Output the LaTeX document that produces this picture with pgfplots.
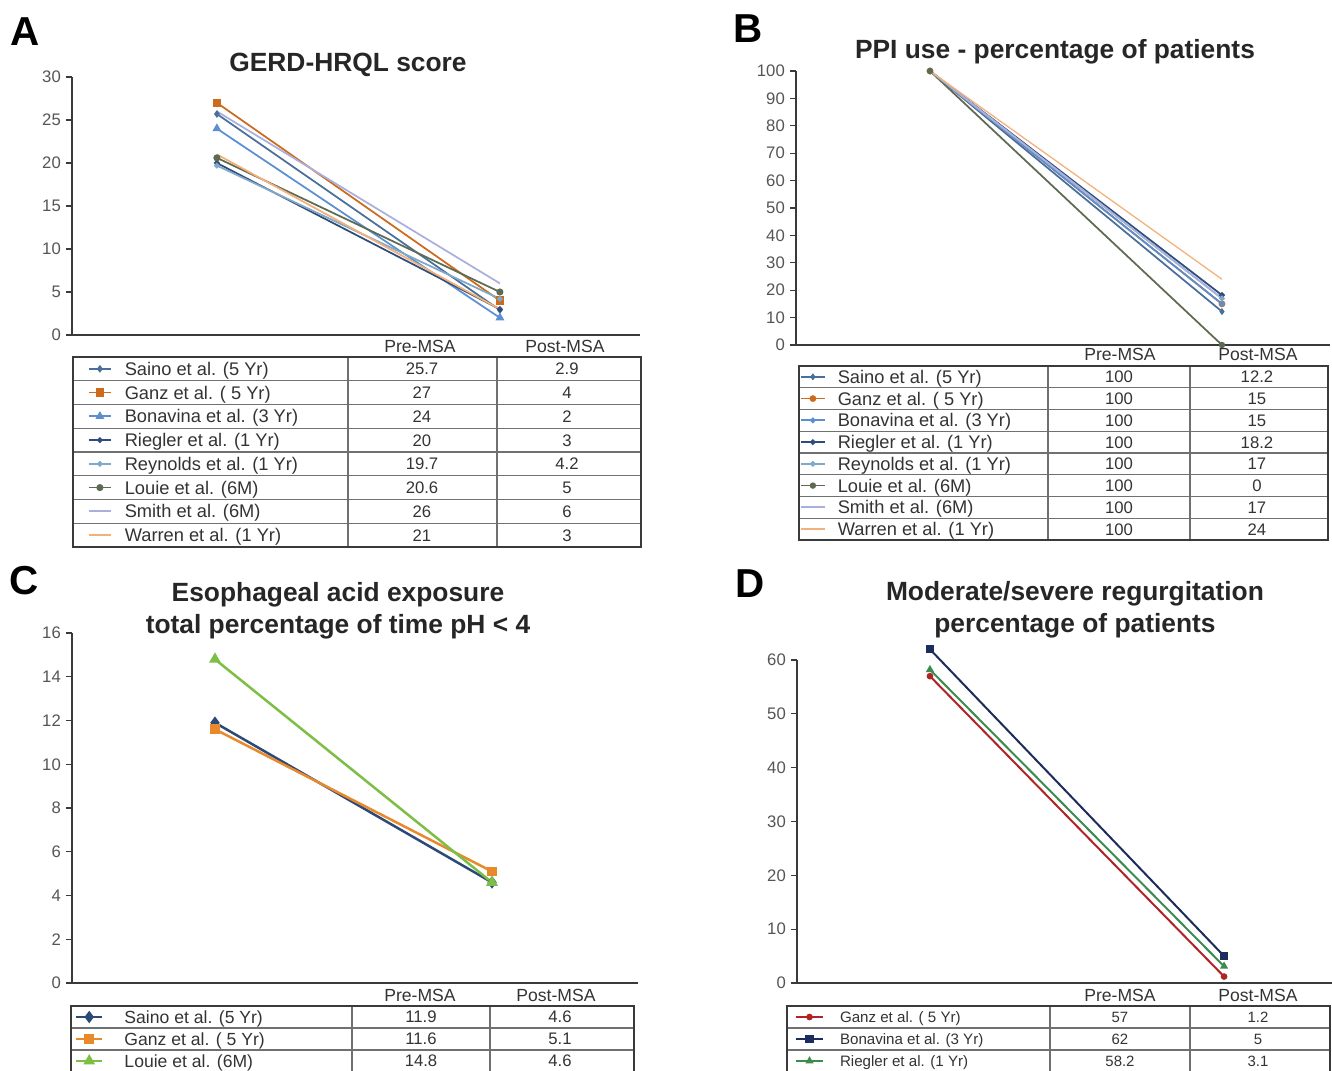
\documentclass[border=0pt]{standalone}
\usepackage{pgfplots}
\pgfplotsset{compat=1.18}
\usepackage{fontspec}
\setmainfont{Liberation Sans}
\definecolor{axisgray}{HTML}{3A3A3A}
\definecolor{tickgray}{HTML}{555555}
\definecolor{txtgray}{HTML}{333333}
\definecolor{gridgray}{HTML}{707070}
% series colours
\definecolor{cSaino}{HTML}{4A6F9A}
\definecolor{cGanz}{HTML}{CC6A1E}
\definecolor{cBona}{HTML}{5B8FD0}
\definecolor{cRieg}{HTML}{2F4D7A}
\definecolor{cReyn}{HTML}{7FA8C9}
\definecolor{cLouie}{HTML}{5E6B52}
\definecolor{cSmith}{HTML}{A9B0DD}
\definecolor{cWarren}{HTML}{F2B07A}
\definecolor{cCSaino}{HTML}{2C4A78}
\definecolor{cCGanz}{HTML}{E8892C}
\definecolor{cCLouie}{HTML}{7DBE45}
\definecolor{cDGanz}{HTML}{B02428}
\definecolor{cDBona}{HTML}{1C2C5C}
\definecolor{cDRieg}{HTML}{3C8C50}
\pgfplotsset{
  panel/.style={
    scale only axis, clip=false,
    axis x line*=bottom, axis y line*=left,
    axis line style={line width=0.3mm, draw=axisgray, -},
    xtick=\empty,
    tick align=outside,
    major tick length=1.2mm,
    ytick style={line width=0.25mm, draw=axisgray},
    yticklabel style={font=\fontsize{9.5}{10}\selectfont, text=tickgray, /pgf/number format/assume math mode=true, xshift=0.2mm},
    legend cell align=left,
    every axis plot/.append style={line width=0.35mm},
  },
}
\tikzset{
  num/.style={font=\fontsize{9.5}{11}\selectfont, text=txtgray, inner sep=0pt, text height=2.4mm, text depth=0pt, anchor=center},
  numD/.style={font=\fontsize{8.5}{10}\selectfont, text=txtgray, inner sep=0pt, text height=2.15mm, text depth=0pt, anchor=center},
  hdr/.style={font=\fontsize{10}{11}\selectfont, text=txtgray, inner sep=0pt, text height=2.5mm, text depth=0pt, anchor=center},
  ttl/.style={font=\fontsize{15}{18}\selectfont\bfseries, text=black!85, inner sep=0pt, text height=3.85mm, text depth=0pt, anchor=center},
  plab/.style={font=\fontsize{23}{26}\selectfont\bfseries, text=black, inner sep=0pt, text height=5.9mm, text depth=0pt, anchor=center},
  gl/.style={gridgray, line width=0.25mm},
  ol/.style={axisgray, line width=0.35mm},
}
\begin{document}
\begin{tikzpicture}
\path[use as bounding box] (0,0) rectangle (266.4mm,-214.2mm);

% ---------------- Panel A ----------------
\begin{axis}[panel,
  at={(14.4mm,-67.0mm)}, anchor=south west,
  width=113.6mm, height=51.6mm,
  xmin=-0.512, xmax=1.495, ymin=0, ymax=30,
  ytick={0,5,...,30},
  legend image code/.code={\draw[mark repeat=2,mark phase=2,#1] plot coordinates {(0mm,0mm) (2.2mm,0mm) (4.4mm,0mm)};},
  legend style={at={(axis description cs:0.0282,-0.1058)}, anchor=north west, draw=none, fill=none,
    inner sep=0pt, outer sep=0pt, row sep=2.13mm, font=\fontsize{10.4}{12}\selectfont, text=txtgray,
    nodes={inner sep=0pt, text height=2.62mm, text depth=0pt},
    /tikz/every odd column/.append style={column sep=2.6mm}},
]
\addplot[color=cSaino, mark=diamond*, mark size=1.4pt] coordinates {(0,25.7) (1,2.9)};
\addlegendentry{Saino et al. (5 Yr)}
\addplot[color=cGanz, mark=square*, mark size=1.9pt] coordinates {(0,27) (1,4)};
\addlegendentry{Ganz et al. ( 5 Yr)}
\addplot[color=cBona, mark=triangle*, mark size=2pt] coordinates {(0,24) (1,2)};
\addlegendentry{Bonavina et al. (3 Yr)}
\addplot[color=cRieg, mark=*, mark size=1.1pt] coordinates {(0,20) (1,3)};
\addlegendentry{Riegler et al. (1 Yr)}
\addplot[color=cReyn, mark=*, mark size=1.1pt] coordinates {(0,19.7) (1,4.2)};
\addlegendentry{Reynolds et al. (1 Yr)}
\addplot[color=cLouie, mark=*, mark size=1.5pt] coordinates {(0,20.6) (1,5)};
\addlegendentry{Louie et al. (6M)}
\addplot[color=cSmith, no marks] coordinates {(0,26) (1,6)};
\addlegendentry{Smith et al. (6M)}
\addplot[color=cWarren, no marks] coordinates {(0,21) (1,3)};
\addlegendentry{Warren et al. (1 Yr)}
\end{axis}

% ---------------- Panel B ----------------
\begin{axis}[panel,
  at={(159.2mm,-69.0mm)}, anchor=south west,
  width=106.8mm, height=54.8mm,
  xmin=-0.459, xmax=1.370, ymin=0, ymax=100,
  ytick={0,10,...,100},
  legend image code/.code={\draw[mark repeat=2,mark phase=2,#1] plot coordinates {(0mm,0mm) (2.4mm,0mm) (4.8mm,0mm)};},
  legend style={at={(axis description cs:0.0075,-0.0923)}, anchor=north west, draw=none, fill=none,
    inner sep=0pt, outer sep=0pt, row sep=1.73mm, font=\fontsize{10.4}{12}\selectfont, text=txtgray,
    nodes={inner sep=0pt, text height=2.62mm, text depth=0pt},
    /tikz/every odd column/.append style={column sep=2.4mm}},
]
\addplot[color=cSaino, mark=diamond*, mark size=1.2pt] coordinates {(0,100) (1,12.2)};
\addlegendentry{Saino et al. (5 Yr)}
\addplot[color=cGanz, mark=*, mark size=1.4pt] coordinates {(0,100) (1,15)};
\addlegendentry{Ganz et al. ( 5 Yr)}
\addplot[color=cBona, mark=*, mark size=1.1pt] coordinates {(0,100) (1,15)};
\addlegendentry{Bonavina et al. (3 Yr)}
\addplot[color=cRieg, mark=*, mark size=1.1pt] coordinates {(0,100) (1,18.2)};
\addlegendentry{Riegler et al. (1 Yr)}
\addplot[color=cReyn, mark=*, mark size=1.1pt] coordinates {(0,100) (1,17)};
\addlegendentry{Reynolds et al. (1 Yr)}
\addplot[color=cLouie, mark=*, mark size=1.3pt] coordinates {(0,100) (1,0)};
\addlegendentry{Louie et al. (6M)}
\addplot[color=cSmith, no marks] coordinates {(0,100) (1,17)};
\addlegendentry{Smith et al. (6M)}
\addplot[color=cWarren, no marks, line width=0.25mm] coordinates {(0,100) (1,24)};
\addlegendentry{Warren et al. (1 Yr)}
\end{axis}

% ---------------- Panel C ----------------
\begin{axis}[panel,
  at={(14.4mm,-196.6mm)}, anchor=south west,
  width=113.2mm, height=70mm,
  xmin=-0.516, xmax=1.527, ymin=0, ymax=16,
  ytick={0,2,...,16},
  every axis plot/.append style={line width=0.5mm},
  legend image code/.code={\draw[mark repeat=2,mark phase=2,#1] plot coordinates {(0mm,0mm) (2.6mm,0mm) (5.2mm,0mm)};},
  legend style={at={(axis description cs:0.0053,-0.0791)}, anchor=north west, draw=none, fill=none,
    inner sep=0pt, outer sep=0pt, row sep=1.88mm, font=\fontsize{10}{12}\selectfont, text=txtgray,
    nodes={inner sep=0pt, text height=2.52mm, text depth=0pt},
    /tikz/every odd column/.append style={column sep=4.2mm}},
]
\addplot[color=cCSaino, mark=diamond*, mark size=2.4pt] coordinates {(0,11.9) (1,4.6)};
\addlegendentry{Saino et al. (5 Yr)}
\addplot[color=cCGanz, mark=square*, mark size=2pt] coordinates {(0,11.6) (1,5.1)};
\addlegendentry{Ganz et al. ( 5 Yr)}
\addplot[color=cCLouie, mark=triangle*, mark size=2.5pt] coordinates {(0,14.8) (1,4.6)};
\addlegendentry{Louie et al. (6M)}
\end{axis}

% ---------------- Panel D ----------------
\begin{axis}[panel,
  at={(159.4mm,-196.6mm)}, anchor=south west,
  width=107mm, height=64.6mm,
  xmin=-0.452, xmax=1.367, ymin=0, ymax=60,
  ytick={0,10,...,60},
  every axis plot/.append style={line width=0.4mm},
  legend image code/.code={\draw[mark repeat=2,mark phase=2,#1] plot coordinates {(0mm,0mm) (2.7mm,0mm) (5.4mm,0mm)};},
  legend style={at={(axis description cs:-0.0037,-0.0885)}, anchor=north west, draw=none, fill=none,
    inner sep=0pt, outer sep=0pt, row sep=2.23mm, font=\fontsize{8.6}{10}\selectfont, text=txtgray,
    nodes={inner sep=0pt, text height=2.17mm, text depth=0pt},
    /tikz/every odd column/.append style={column sep=3.2mm}},
]
\addplot[color=cDGanz, mark=*, mark size=1.3pt] coordinates {(0,57) (1,1.2)};
\addlegendentry{Ganz et al. ( 5 Yr)}
\addplot[color=cDBona, mark=square*, mark size=1.8pt] coordinates {(0,62) (1,5)};
\addlegendentry{Bonavina et al. (3 Yr)}
\addplot[color=cDRieg, mark=triangle*, mark size=1.6pt] coordinates {(0,58.2) (1,3.1)};
\addlegendentry{Riegler et al. (1 Yr)}
\end{axis}

% ---------------- Tables, titles, labels ----------------
\begin{scope}[x=0.2mm,y=-0.2mm]
% Panel labels
\node[plab] at (25,31) {A};
\node[plab] at (748,28) {B};
\node[plab] at (24,580) {C};
\node[plab] at (750,583) {D};
% Titles
\node[ttl] at (348,62) {GERD-HRQL score};
\node[ttl] at (1055,49) {PPI use - percentage of patients};
\node[ttl] at (338,592) {Esophageal acid exposure};
\node[ttl] at (338,624) {total percentage of time pH < 4};
\node[ttl] at (1075,591) {Moderate/severe regurgitation};
\node[ttl] at (1075,623) {percentage of patients};

% Table A
\node[hdr] at (420,346) {Pre-MSA};
\node[hdr] at (565,346) {Post-MSA};
\foreach \k in {1,...,7} \draw[gl] (73,{357+23.75*\k}) -- (641,{357+23.75*\k});
\draw[gl] (348,357) -- (348,547);
\draw[gl] (497,357) -- (497,547);
\draw[ol] (73,357) rectangle (641,547);
\foreach \v [count=\i] in {25.7,27,24,20,19.7,20.6,26,21}
  \node[num] at (422,{357+23.75*(\i-0.5)}) {\v};
\foreach \v [count=\i] in {2.9,4,2,3,4.2,5,6,3}
  \node[num] at (567,{357+23.75*(\i-0.5)}) {\v};

% Table B
\node[hdr] at (1120,354) {Pre-MSA};
\node[hdr] at (1258,354) {Post-MSA};
\foreach \k in {1,...,7} \draw[gl] (799,{366+21.75*\k}) -- (1328,{366+21.75*\k});
\draw[gl] (1048,366) -- (1048,540);
\draw[gl] (1190,366) -- (1190,540);
\draw[ol] (799,366) rectangle (1328,540);
\foreach \v [count=\i] in {100,100,100,100,100,100,100,100}
  \node[num] at (1119,{366+21.75*(\i-0.5)}) {\v};
\foreach \v [count=\i] in {12.2,15,15,18.2,17,0,17,24}
  \node[num] at (1257,{366+21.75*(\i-0.5)}) {\v};

% Table C
\node[hdr] at (420,995) {Pre-MSA};
\node[hdr] at (556,995) {Post-MSA};
\foreach \k in {1,2} \draw[gl] (71,{1006+22*\k}) -- (634,{1006+22*\k});
\draw[gl] (352,1006) -- (352,1075);
\draw[gl] (490,1006) -- (490,1075);
\draw[ol] (71,1075) -- (71,1006) -- (634,1006) -- (634,1075);
\foreach \v [count=\i] in {11.9,11.6,14.8}
  \node[num] at (421,{1006+22*(\i-0.5)}) {\v};
\foreach \v [count=\i] in {4.6,5.1,4.6}
  \node[num] at (560,{1006+22*(\i-0.5)}) {\v};

% Table D
\node[hdr] at (1120,995) {Pre-MSA};
\node[hdr] at (1258,995) {Post-MSA};
\foreach \k in {1,2} \draw[gl] (787,{1006+22*\k}) -- (1330,{1006+22*\k});
\draw[gl] (1050,1006) -- (1050,1075);
\draw[gl] (1190,1006) -- (1190,1075);
\draw[ol] (787,1075) -- (787,1006) -- (1330,1006) -- (1330,1075);
\foreach \v [count=\i] in {57,62,58.2}
  \node[numD] at (1120,{1006+22*(\i-0.5)}) {\v};
\foreach \v [count=\i] in {1.2,5,3.1}
  \node[numD] at (1258,{1006+22*(\i-0.5)}) {\v};
\end{scope}
\end{tikzpicture}
\end{document}
